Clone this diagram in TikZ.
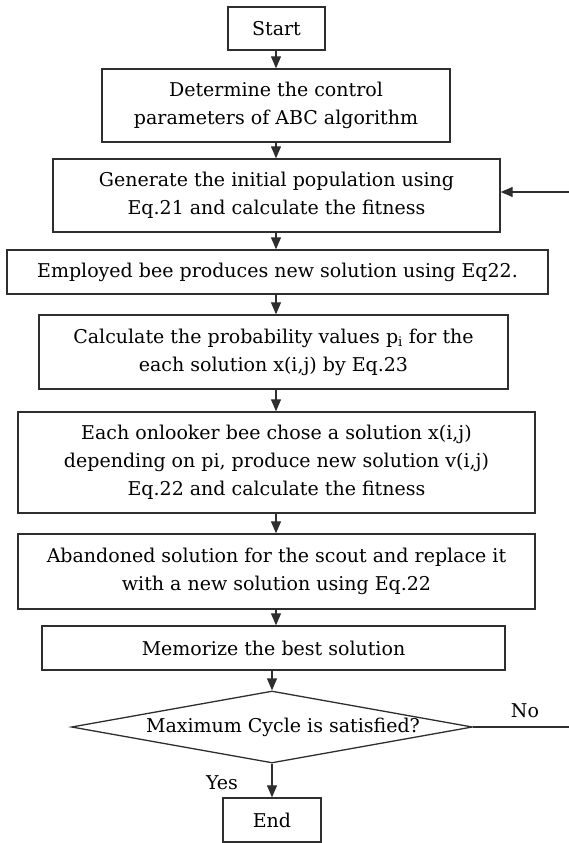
\documentclass[tikz,border=0pt]{standalone}
\usepackage{fontspec}
\setmainfont{DejaVu Serif}
\usetikzlibrary{arrows.meta,shapes.geometric}
\definecolor{ln}{HTML}{2E2E2E}
\tikzset{
  boxnode/.style={draw=ln, line width=1.4pt, rectangle, inner sep=0pt, align=center, text=black},
  decnode/.style={draw=ln, line width=1.3pt, diamond, inner sep=0pt},
  arr/.style={draw=ln, line width=1.3pt, -{Triangle[length=12pt,width=10pt]}},
  plain/.style={draw=ln, line width=1.3pt},
  lbl/.style={inner sep=0pt, text=black}
}
\begin{document}
\begin{tikzpicture}[x=1pt,y=-1pt,font=\fontsize{19}{28}\selectfont]
\useasboundingbox (0,0) rectangle (569,843);
\node[boxnode, minimum width=97pt, minimum height=43pt] (start) at (276.5,28.5) {Start};
\node[boxnode, minimum width=348pt, minimum height=73pt] (det) at (276,105.5) {Determine the control\\parameters of ABC algorithm};
\node[boxnode, minimum width=447pt, minimum height=73pt] (gen) at (276.5,195.5) {Generate the initial population using\\Eq.21 and calculate the fitness};
\node[boxnode, minimum width=541pt, minimum height=44pt] (emp) at (277.5,272) {Employed bee produces new solution using Eq22.};
\node[boxnode, minimum width=469pt, minimum height=74pt] (cal) at (273.5,352) {Calculate the probability values p\textsubscript{i} for the\\each solution x(i,j) by Eq.23};
\node[boxnode, minimum width=517pt, minimum height=101pt] (onl) at (276.5,462.5) {Each onlooker bee chose a solution x(i,j)\\depending on pi, produce new solution v(i,j)\\Eq.22 and calculate the fitness};
\node[boxnode, minimum width=517pt, minimum height=75pt] (aba) at (276.5,571.5) {Abandoned solution for the scout and replace it\\with a new solution using Eq.22};
\node[boxnode, minimum width=463pt, minimum height=44pt] (mem) at (273.5,648) {Memorize the best solution};
\node[decnode, minimum width=401pt, minimum height=72pt] (dec) at (272,727) {};
\node[lbl] (dectext) at (283,727) {Maximum Cycle is satisfied?};
\node[boxnode, minimum width=98pt, minimum height=44pt] (end) at (272,820) {End};
\node[lbl] (yes) at (222,783) {Yes};
\node[lbl] (no) at (525,711) {No};
\coordinate (loopin) at (569,192);
\coordinate (noend) at (569,727);
\draw[arr] (276,0 |- start.south) coordinate (a1) -- (a1 |- det.north);
\draw[arr] (276,0 |- det.south) coordinate (a2) -- (a2 |- gen.north);
\draw[arr] (276,0 |- gen.south) coordinate (a3) -- (a3 |- emp.north);
\draw[arr] (276,0 |- emp.south) coordinate (a4) -- (a4 |- cal.north);
\draw[arr] (276,0 |- cal.south) coordinate (a5) -- (a5 |- onl.north);
\draw[arr] (276,0 |- onl.south) coordinate (a6) -- (a6 |- aba.north);
\draw[arr] (276,0 |- aba.south) coordinate (a7) -- (a7 |- mem.north);
\draw[arr] (mem.south -| dec.north) -- (dec.north);
\draw[arr] (dec.south) -- (end.north);
\draw[arr] (loopin) -- (loopin -| gen.east);
\draw[plain] (dec.east) -- (noend);
\end{tikzpicture}
\end{document}
